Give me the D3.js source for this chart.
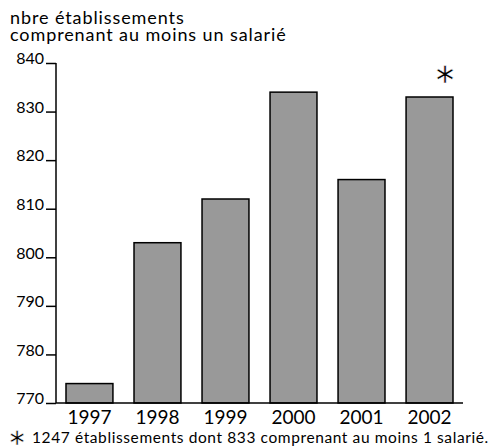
<!DOCTYPE html>
<html>
<head>
<meta charset="utf-8">
<script src="https://cdn.jsdelivr.net/npm/d3@7"></script>
<style>
  body { margin: 0; background: #fff; }
  text { font-family: Lato, "Open Sans", sans-serif; fill: #000; }
</style>
</head>
<body>
<svg id="chart" width="499" height="448"></svg>
<script>
  // data
  var years = ["1997", "1998", "1999", "2000", "2001", "2002"]
  var counts = [774, 803, 812, 834, 816, 833]
  var yTicks = [770, 780, 790, 800, 810, 820, 830, 840]
  var titleLines = ["nbre établissements", "comprenant au moins un salarié"]
  var footnote = "1247 établissements dont 833 comprenant au moins 1 salarié."

  var svg = d3.select("#chart")

  var x = d3.scaleBand().domain(years).range([56, 463]).paddingInner(0.31).paddingOuter(0.147)
  var y = d3.scaleLinear().domain([770, 840]).range([403, 63])

  // title
  svg.selectAll(".title").data(titleLines).enter().append("text")
    .attr("class", "title")
    .attr("x", 10).attr("y", function(d, i){ return 24 + i * 17 })
    .style("font-size", "18px").style("letter-spacing", "0.9px")
    .text(function(d){ return d })

  // bars
  svg.selectAll(".bar").data(counts).enter().append("rect")
    .attr("class", "bar")
    .attr("x", function(d, i){ return x(years[i]) })
    .attr("width", x.bandwidth())
    .attr("y", function(d){ return y(d) })
    .attr("height", function(d){ return y(770) - y(d) })
    .attr("fill", "#999999").attr("stroke", "#000").attr("stroke-width", 1.5)

  // y axis
  var yAxis = d3.axisLeft(y).tickValues(yTicks).tickSize(10).tickPadding(2).tickFormat(d3.format("d"))
  var ga = svg.append("g").attr("transform", "translate(56,0)").call(yAxis)
  ga.select(".domain").remove()
  ga.append("line").attr("x1", 0).attr("x2", 0).attr("y1", 63).attr("y2", 403).attr("stroke", "#000").attr("stroke-width", 1.5)
  ga.selectAll(".tick line").attr("stroke", "#000").attr("stroke-width", 1.5)
  ga.selectAll(".tick text").style("font-size", "16px").style("font-family", "Lato, sans-serif").attr("dy", "0.05em").attr("fill", "#000")

  // x axis
  var xAxis = d3.axisBottom(x).tickSize(0).tickPadding(8)
  var gx = svg.append("g").attr("transform", "translate(0,403)").call(xAxis)
  gx.select(".domain").remove()
  gx.append("line").attr("x1", 56).attr("x2", 463).attr("y1", 0).attr("y2", 0).attr("stroke", "#000").attr("stroke-width", 1.5)
  gx.selectAll(".tick text").style("font-size", "19px").style("font-family", "Lato, sans-serif").attr("fill", "#000")

  // asterisk above 2002
  svg.append("text")
    .attr("x", x("2002") + x.bandwidth() - 8).attr("y", 83)
    .attr("text-anchor", "middle")
    .style("font-family", "DejaVu Sans").style("font-size", "28px")
    .attr("stroke", "#fff").attr("stroke-width", 0.6)
    .text("∗")

  // footnote
  svg.append("text").attr("x", 17).attr("y", 445)
    .attr("text-anchor", "middle")
    .style("font-family", "DejaVu Sans").style("font-size", "23px")
    .attr("stroke", "#fff").attr("stroke-width", 0.5)
    .text("∗")
  svg.append("text").attr("x", 32).attr("y", 443)
    .style("font-size", "15.5px").style("letter-spacing", "0.6px")
    .text(footnote)
</script>
</body>
</html>
